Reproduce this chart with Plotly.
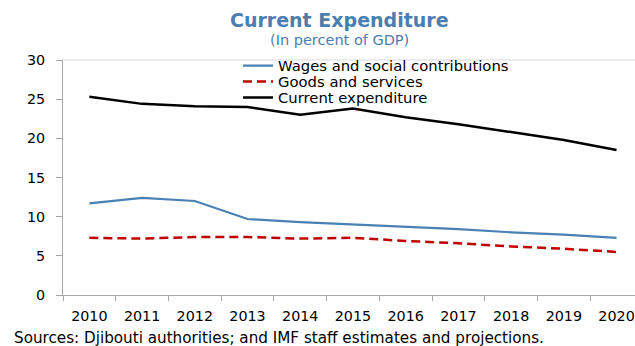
import plotly.graph_objects as go

years = ["2010", "2011", "2012", "2013", "2014", "2015", "2016", "2017", "2018", "2019", "2020"]
wages = [11.7, 12.4, 12.0, 9.7, 9.3, 9.0, 8.7, 8.4, 8.0, 7.7, 7.3]
goods = [7.3, 7.2, 7.4, 7.4, 7.2, 7.3, 6.9, 6.6, 6.2, 5.9, 5.5]
current = [25.3, 24.4, 24.1, 24.0, 23.0, 23.8, 22.7, 21.8, 20.8, 19.8, 18.5]

FONT = "DejaVu Sans"
TITLE_BLUE = "#4a7eb0"

fig = go.Figure()
fig.add_trace(go.Scatter(x=years, y=wages, mode="lines", name="Wages and social contributions",
                         line=dict(color="#4a81b4", width=2.2), legend="legend"))
fig.add_trace(go.Scatter(x=years, y=goods, mode="lines", name="Goods and services",
                         line=dict(color="#c00000", width=2.5, dash="9px,5px"), legend="legend2"))
fig.add_trace(go.Scatter(x=years, y=current, mode="lines", name="Current expenditure",
                         line=dict(color="#000000", width=2.5), legend="legend3"))

legend_common = dict(x=(238 - 63) / 572, xanchor="left", yanchor="top", bgcolor="rgba(0,0,0,0)",
                     itemwidth=30, font=dict(size=14.8, family=FONT, color="#000000"))

fig.update_layout(
    width=635, height=346,
    margin=dict(l=63, r=0, t=60, b=51),
    paper_bgcolor="white", plot_bgcolor="white",
    font=dict(family=FONT, size=14, color="#000000"),
    showlegend=True,
    legend=dict(y=1.045, **legend_common),
    legend2=dict(y=0.977, **legend_common),
    legend3=dict(y=0.909, **legend_common),
)
fig.add_annotation(text="<b>Current Expenditure</b>", xref="paper", yref="paper",
                   x=0.484, y=1.0, yshift=40, showarrow=False, xanchor="center", yanchor="middle",
                   font=dict(size=19, color=TITLE_BLUE, family=FONT))
fig.add_annotation(text="(In percent of GDP)", xref="paper", yref="paper",
                   x=0.484, y=1.0, yshift=20, showarrow=False, xanchor="center", yanchor="middle",
                   font=dict(size=14.5, color=TITLE_BLUE, family=FONT))
fig.add_annotation(text="Sources: Djibouti authorities; and IMF staff estimates and projections.",
                   xref="paper", yref="paper", x=(12 - 63) / 572, y=0, yshift=-43, showarrow=False,
                   xanchor="left", yanchor="middle", font=dict(size=15.2, color="#000000", family=FONT))

fig.update_xaxes(type="category", range=[-0.5, 10.35], showline=True, linecolor="#a6a6a6",
                 linewidth=1, ticks="outside", tickson="boundaries", ticklen=5, tickcolor="#a6a6a6",
                 showgrid=False, mirror=False, ticklabelstandoff=8, tickfont=dict(size=14.3))
fig.update_yaxes(range=[0, 30], dtick=5, showline=True, linecolor="#a6a6a6", linewidth=1,
                 ticks="outside", ticklen=6, tickcolor="#a6a6a6", showgrid=False, zeroline=False,
                 ticklabelstandoff=8, tickfont=dict(size=14.3))
# light border along the top of the plot area
fig.add_shape(type="line", xref="paper", yref="paper", x0=0, x1=1, y0=1, y1=1,
              line=dict(color="#d9d9d9", width=1))

fig.write_html("out.html")
